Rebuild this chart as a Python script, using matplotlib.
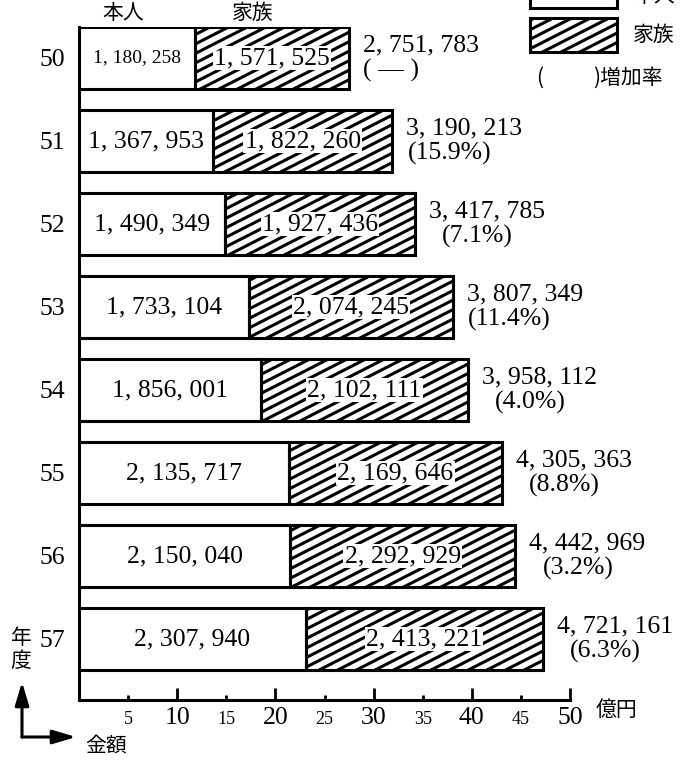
import numpy as np
import matplotlib
matplotlib.use("Agg")
import matplotlib.pyplot as plt
from matplotlib.collections import LineCollection
from matplotlib.transforms import IdentityTransform
from matplotlib.patches import Rectangle, FancyArrowPatch

# 年度別 医療費（本人・家族）
years = ["50", "51", "52", "53", "54", "55", "56", "57"]
honnin = [1180258, 1367953, 1490349, 1733104, 1856001, 2135717, 2150040, 2307940]
kazoku = [1571525, 1822260, 1927436, 2074245, 2102111, 2169646, 2292929, 2413221]
totals = [2751783, 3190213, 3417785, 3807349, 3958112, 4305363, 4442969, 4721161]
growth = [None, 15.9, 7.1, 11.4, 4.0, 8.8, 3.2, 6.3]
major_ticks = [10, 20, 30, 40, 50]
minor_ticks = [5, 15, 25, 35, 45]

UNIT = 100000  # 軸目盛の単位への換算

SERIF = ["Liberation Serif", "DejaVu Serif"]
JP = ["Noto Sans CJK JP", "DejaVu Sans"]

W, H = 681, 761
fig = plt.figure(figsize=(W / 100, H / 100), dpi=100)


def fx(px):
    return px / W


def fy(py):
    return 1 - py / H


ax = fig.add_axes([fx(79), fy(700), (570 - 79) / W, (700 - 27) / H])


def fmt(v):
    return f"{v:,}".replace(",", ", ")


def add_hatch(container, patch, spacing=9.5, angle=27, lw=2.2):
    """Diagonal stripes clipped to a patch, drawn in pixel space."""
    bb = patch.get_window_extent()
    x0, y0, x1, y1 = bb.x0, bb.y0, bb.x1, bb.y1
    slope = np.tan(np.radians(angle))
    rise = slope * (x1 - x0)
    segs = [[(x0, y0 + c), (x1, y0 + c + rise)]
            for c in np.arange(-rise, (y1 - y0) + spacing, spacing)]
    lc = LineCollection(segs, colors="black", linewidths=lw,
                        transform=IdentityTransform(), zorder=2)
    container.add_artist(lc)
    lc.set_clip_path(patch)


ypos = np.arange(len(years))
h_val = np.array(honnin) / UNIT
k_val = np.array(kazoku) / UNIT
t_val = np.array(totals) / UNIT
bh = 0.75

ax.set_xlim(0, 50)
ax.set_ylim(7.735, -0.373)

# 本人（白）
ax.barh(ypos, h_val, height=bh, color="white", edgecolor="black",
        linewidth=2.2, zorder=3)
# 家族（斜線）
kbars = ax.barh(ypos, k_val, left=h_val, height=bh, color="white",
                linewidth=0, zorder=1)
for p in kbars:
    add_hatch(ax, p)
ax.barh(ypos, k_val, left=h_val, height=bh, fill=False, edgecolor="black",
        linewidth=2.2, zorder=3)

# 棒内の数値
for i in range(len(years)):
    fs = 14 if h_val[i] < 12.5 else 18.5
    ax.text(h_val[i] / 2, ypos[i], fmt(honnin[i]), ha="center", va="center",
            fontsize=fs, family=SERIF, zorder=5)
    ax.text(h_val[i] + k_val[i] / 2, ypos[i], fmt(kazoku[i]), ha="center",
            va="center", fontsize=18.5, family=SERIF, zorder=5,
            bbox=dict(facecolor="white", edgecolor="none", pad=1.0))

# 合計と増加率
for i in range(len(years)):
    ax.annotate(fmt(totals[i]), xy=(t_val[i], ypos[i]), xytext=(10, 9),
                textcoords="offset points", ha="left", va="center",
                fontsize=18.5, family=SERIF, annotation_clip=False)
    if growth[i] is None:
        txt = "( — )"
        off = 10
    else:
        txt = f"({growth[i]:.1f}%)"
        off = 11 if growth[i] >= 10 else 19.5
    ax.annotate(txt, xy=(t_val[i], ypos[i]), xytext=(off, -9),
                textcoords="offset points", ha="left", va="center",
                fontsize=18.5, family=SERIF, annotation_clip=False)

# 軸
for s in ["top", "right"]:
    ax.spines[s].set_visible(False)
ax.spines["left"].set_linewidth(2.2)
ax.spines["bottom"].set_linewidth(2.2)

ax.set_yticks(ypos)
ax.set_yticklabels(years, family=SERIF, fontsize=18.5)
ax.tick_params(axis="y", length=0, pad=10)

ax.set_xticks(major_ticks)
ax.set_xticklabels([str(t) for t in major_ticks], family=SERIF, fontsize=18.5)
ax.set_xticks(minor_ticks, minor=True)
ax.set_xticklabels([str(t) for t in minor_ticks], minor=True, family=SERIF,
                   fontsize=13)
ax.tick_params(axis="x", which="major", direction="in", length=8.5, width=2,
               pad=5)
ax.tick_params(axis="x", which="minor", direction="in", length=3.5, width=2,
               pad=8)

# 見出し・単位
fig.text(fx(123), fy(13), "本人", ha="center", va="center", fontsize=15,
         family=JP)
fig.text(fx(253), fy(13), "家族", ha="center", va="center", fontsize=15,
         family=JP)
fig.text(fx(596), fy(710), "億円", ha="left", va="center", fontsize=15,
         family=JP)
fig.text(fx(21), fy(638), "年", ha="center", va="center", fontsize=15,
         family=JP)
fig.text(fx(21), fy(661), "度", ha="center", va="center", fontsize=15,
         family=JP)
fig.text(fx(85), fy(746), "金額", ha="left", va="center", fontsize=15,
         family=JP)

# L字の矢印
arrow = dict(arrowstyle="-|>,head_length=1.0,head_width=0.3", lw=2.2,
             color="black", shrinkA=0, shrinkB=0, mutation_scale=14)
fig.add_artist(FancyArrowPatch(
    (fx(22), fy(737)), (fx(22), fy(682)), transform=fig.transFigure,
    **arrow))
fig.add_artist(FancyArrowPatch(
    (fx(22), fy(737)), (fx(76), fy(737)), transform=fig.transFigure,
    **arrow))

# 凡例
box_w, box_h = (617 - 530) / W, 34 / H
fig.add_artist(Rectangle((fx(530), fy(8)), box_w, box_h,
                         transform=fig.transFigure, facecolor="white",
                         edgecolor="black", linewidth=2.2, zorder=3))
leg2_face = Rectangle((fx(530), fy(52)), box_w, box_h,
                      transform=fig.transFigure, facecolor="white",
                      edgecolor="none", zorder=1)
fig.add_artist(leg2_face)
add_hatch(fig, leg2_face)
fig.add_artist(Rectangle((fx(530), fy(52)), box_w, box_h,
                         transform=fig.transFigure, fill=False,
                         edgecolor="black", linewidth=2.2, zorder=3))
fig.text(fx(633), fy(-4), "本人", ha="left", va="center", fontsize=15,
         family=JP)
fig.text(fx(633), fy(35), "家族", ha="left", va="center", fontsize=15,
         family=JP)
fig.text(fx(540), fy(78), "(", ha="center", va="center", fontsize=15,
         family=JP)
fig.text(fx(593), fy(78), ")増加率", ha="left", va="center", fontsize=15,
         family=JP)

fig.savefig("out.png", dpi=100)
